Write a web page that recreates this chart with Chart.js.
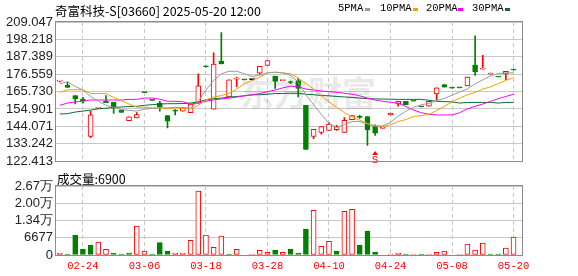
<!DOCTYPE html>
<html>
<head>
<meta charset="utf-8">
<script src="https://cdn.jsdelivr.net/npm/chart.js@4/dist/chart.umd.min.js"></script>
<style>
    body { margin: 0; background: #fff; width: 578px; height: 276px; position: relative; overflow: hidden; }
    canvas { position: absolute; left: 0; }
    #price { top: 0; }
    #vol { top: 172px; }
    .txt { position: absolute; white-space: nowrap; color: #000; }
    #title { left: 55px; top: 1px; font: 12.5px "Noto Sans CJK SC", sans-serif; }
    #volTitle { left: 57px; top: 169px; font: 12.5px "Noto Sans CJK SC", sans-serif; }
    .lg { position: absolute; top: 2px; font: 10.5px "Liberation Mono", monospace; color: #000; }
    .sw { position: absolute; top: 8px; width: 5px; height: 3px; }
</style>
</head>
<body>
<canvas id="price" width="578" height="172"></canvas>
<canvas id="vol" width="578" height="104"></canvas>
<div class="txt" id="title">奇富科技-S[03660] 2025-05-20 12:00</div>
<div class="txt" id="volTitle">成交量:6900</div>
<div id="legend"></div>
<script>
// ---- data ----
const dates = ['02-19', '02-20', '02-21', '02-24', '02-25', '02-26', '02-27', '02-28', '03-03', '03-04',
    '03-05', '03-06', '03-07', '03-10', '03-11', '03-12', '03-13', '03-14', '03-17', '03-18',
    '03-19', '03-20', '03-21', '03-24', '03-25', '03-26', '03-27', '03-28', '03-31', '04-01',
    '04-02', '04-03', '04-07', '04-08', '04-09', '04-10', '04-11', '04-14', '04-15', '04-16',
    '04-17', '04-22', '04-23', '04-24', '04-25', '04-28', '04-29', '04-30', '05-02', '05-06',
    '05-07', '05-08', '05-09', '05-12', '05-13', '05-14', '05-15', '05-16', '05-19', '05-20'];
const axisDates = ['02-24', '03-06', '03-18', '03-28', '04-10', '04-24', '05-08', '05-20'];

const open = [172.2, 169.7, 163.3, 161.0, 137.9, 155.4, 159.7, 159.1, 154.0, 147.6,
    149.4, 165.3, 160.5, 158.6, 150.8, 153.8, 153.6, 152.6, 158.6, 181.4,
    154.8, 184.7, 162.4, 173.4, 173.1, 173.2, 177.2, 182.1, 175.4, 172.6,
    171.6, 172.6, 157.2, 137.9, 140.3, 141.5, 142.0, 140.3, 148.2, 150.4,
    150.2, 144.0, 142.8, 151.2, 158.0, 159.7, 159.8, 156.3, 156.6, 164.3,
    170.1, 168.0, 168.1, 169.3, 182.2, 179.7, 176.7, 174.9, 176.8, 179.3];
const high = [172.4, 171.6, 163.3, 162.1, 153.6, 156.0, 163.3, 159.1, 154.0, 150.0,
    152.6, 165.3, 160.5, 159.7, 150.8, 154.6, 155.6, 158.0, 176.8, 181.6,
    189.9, 202.4, 173.0, 174.8, 173.1, 173.4, 181.4, 185.1, 175.4, 172.7,
    172.2, 173.8, 157.2, 142.3, 144.0, 146.5, 144.8, 149.6, 150.8, 151.0,
    150.2, 145.0, 142.9, 152.4, 159.7, 159.7, 159.8, 156.3, 159.7, 168.1,
    170.1, 168.0, 168.1, 174.8, 200.4, 188.3, 177.2, 174.9, 178.4, 179.8];
const low = [171.8, 168.4, 158.0, 158.6, 137.0, 155.2, 158.8, 152.2, 152.8, 147.6,
    149.4, 165.1, 160.3, 153.6, 143.1, 151.2, 153.6, 152.6, 158.6, 181.0,
    154.8, 183.0, 162.4, 168.7, 173.0, 173.0, 176.4, 182.1, 167.7, 172.6,
    170.6, 162.4, 129.8, 136.4, 139.3, 141.5, 141.5, 140.3, 148.2, 149.0,
    132.2, 138.5, 142.8, 151.2, 156.6, 157.6, 159.7, 156.2, 156.6, 160.6,
    168.5, 167.9, 168.0, 169.3, 175.8, 179.7, 176.6, 174.8, 173.2, 179.0];
const close = [172.4, 168.4, 161.2, 160.0, 151.2, 155.6, 158.8, 155.6, 152.8, 150.0,
    151.4, 165.1, 160.3, 156.4, 147.3, 153.6, 155.6, 158.0, 169.3, 181.2,
    182.8, 183.0, 173.0, 174.2, 173.0, 173.2, 181.4, 185.1, 172.1, 172.7,
    171.4, 167.7, 129.8, 142.3, 144.0, 145.5, 144.0, 147.9, 150.8, 149.6,
    141.9, 139.9, 142.9, 152.4, 159.7, 157.6, 159.7, 156.2, 159.7, 168.1,
    168.5, 167.9, 168.0, 174.8, 178.2, 179.8, 176.8, 174.8, 178.4, 179.2];

const ma5 = [170.7, 171.8, 169.0, 166.7, 162.7, 159.7, 157.2, 156.0, 154.6, 154.0,
    153.6, 154.8, 155.2, 155.6, 155.6, 156.0, 155.8, 155.4, 159.7, 166.7,
    172.7, 176.8, 178.4, 178.4, 176.8, 175.2, 176.0, 177.4, 177.8, 177.4,
    175.8, 171.8, 163.7, 157.6, 151.6, 145.9, 143.5, 145.1, 147.1, 147.1,
    145.5, 144.3, 144.4, 146.5, 150.5, 153.5, 156.0, 157.5, 158.5, 160.0,
    161.5, 163.5, 165.5, 167.5, 170.5, 173.0, 175.5, 177.0, 177.4, 177.4];
const ma10 = [165.3, 166.9, 166.9, 166.9, 164.5, 164.5, 164.5, 162.1, 160.1, 158.0,
    156.0, 156.0, 155.6, 155.6, 155.2, 155.6, 155.4, 155.0, 157.2, 160.6,
    162.3, 163.3, 164.7, 167.3, 170.7, 172.7, 174.8, 177.4, 177.8, 177.4,
    176.8, 174.2, 170.7, 167.3, 163.3, 159.3, 156.0, 152.6, 150.0, 147.9,
    145.9, 144.5, 143.9, 145.1, 147.1, 148.3, 150.2, 150.8, 151.6, 154.0,
    156.6, 159.3, 161.7, 163.7, 165.3, 167.3, 168.7, 170.7, 172.7, 174.4];
const ma20 = [157.2, 158.6, 159.3, 159.7, 160.5, 160.5, 160.5, 160.5, 160.5, 160.9,
    160.9, 161.7, 161.7, 161.0, 159.7, 159.7, 159.4, 158.0, 158.6, 159.7,
    160.6, 161.1, 161.7, 162.3, 163.1, 163.7, 164.5, 165.7, 166.7, 168.1,
    169.1, 168.7, 167.3, 166.7, 166.1, 165.7, 165.3, 164.7, 164.1, 163.1,
    161.7, 160.5, 159.7, 159.1, 158.5, 156.5, 154.2, 152.6, 151.6, 151.2,
    151.2, 151.2, 152.6, 155.0, 156.6, 158.0, 159.7, 161.3, 162.7, 164.1];
const ma30 = [151.8, 152.0, 153.0, 153.6, 154.2, 155.0, 155.4, 155.8, 156.2, 156.4,
    156.6, 157.2, 157.6, 158.0, 158.2, 158.2, 158.3, 158.6, 159.3, 160.6,
    161.3, 161.7, 162.3, 162.7, 163.1, 163.7, 163.8, 164.1, 164.5, 164.6,
    164.7, 164.7, 164.1, 163.8, 163.3, 163.1, 162.7, 162.4, 162.1, 161.7,
    161.3, 161.2, 161.1, 161.0, 160.9, 160.9, 160.9, 160.9, 160.3, 159.7,
    159.5, 159.3, 158.6, 159.0, 159.0, 159.0, 159.0, 158.6, 159.0, 159.0];

const volume = [774, 387, 7740, 2322, 3870, 5031, 2193, 774, 387, 774,
    11223, 1548, 387, 4773, 1548, 774, 774, 5676, 24768, 7740,
    2967, 7353, 387, 2193, 0, 387, 1806, 1032, 1935, 1032,
    2322, 774, 10062, 17286, 3354, 5289, 1548, 16899, 17673, 3870,
    9288, 1161, 0, 387, 774, 387, 387, 387, 387, 1032,
    1548, 0, 387, 4257, 1935, 4644, 387, 387, 2709, 6900];

const priceTicks = [122.413, 133.242, 144.071, 154.901, 165.730, 176.559, 187.389, 198.218, 209.047];
const volTicks = [0, 6677, 13354, 20031, 26708];
const volTickText = ['0', '6677', '1.34万', '2.00万', '2.67万'];

const maNames = ['5PMA', '10PMA', '20PMA', '30PMA'];
const signalDate = '04-22';
const watermark = '东方财富';

// ---- styles ----
const RED = '#ff0000';
const GREEN = '#008000';
const maColors = ['#9a9a9a', '#f5a000', '#ff00ff', '#0b6e2e'];
const GRID = '#c8c8c8';

const tickIdx = axisDates.map(d => dates.indexOf(d));
const bodyLine = close.map((c, i) => c > open[i] ? RED : c < open[i] ? GREEN : '#000');
const bodyFill = close.map((c, i) => c > open[i] ? '#fff' : c < open[i] ? GREEN : '#000');
const volUp = close.map((c, i) => i === 0 || c >= close[i - 1]);

// legend (text followed by colour swatch)
const legendPos = [[338, 365], [380, 413], [426, 458], [472, 505]];
const legend = document.getElementById('legend');
maNames.forEach((name, k) => {
    const t = document.createElement('div');
    t.className = 'lg';
    t.style.left = legendPos[k][0] + 'px';
    t.textContent = name;
    const s = document.createElement('div');
    s.className = 'sw';
    s.style.left = legendPos[k][1] + 'px';
    s.style.background = maColors[k];
    legend.appendChild(t);
    legend.appendChild(s);
});

function xAxis(showLabels) {
    return {
        type: 'linear',
        min: -0.5,
        max: 60.1,
        offset: false,
        afterBuildTicks: s => { s.ticks = tickIdx.map(v => ({ value: v })); },
        afterFit: s => { s.height = showLabels ? 21 : 0; },
        grid: { color: GRID, drawTicks: false, offset: false },
        border: { display: false, dash: [4, 3] },
        ticks: {
            display: showLabels,
            padding: 5,
            color: RED,
            font: { family: 'Liberation Mono', size: 10.5 },
            maxRotation: 0,
            autoSkip: false,
            callback: v => dates[v],
        },
    };
}

// grey frame round the plot area
const frame = {
    id: 'frame',
    afterDraw(c) {
        const { left, top, right, bottom } = c.chartArea;
        const ctx = c.ctx;
        ctx.save();
        ctx.strokeStyle = '#8c8c8c';
        ctx.lineWidth = 1;
        ctx.strokeRect(Math.round(left) - 0.5, Math.round(top) - 0.5, Math.round(right - left) + 1, Math.round(bottom - top) + 1);
        ctx.restore();
    },
};

const marks = {
    id: 'marks',
    beforeDatasetsDraw(c) {
        const ctx = c.ctx;
        ctx.save();
        ctx.font = 'bold 34px "Noto Sans CJK SC"';
        ctx.fillStyle = 'rgba(120,120,120,0.16)';
        ctx.textBaseline = 'middle';
        ctx.fillText(watermark, 240, 93);
        ctx.restore();
    },
    afterDatasetsDraw(c) {
        const x = c.scales.x.getPixelForValue(dates.indexOf(signalDate));
        const ctx = c.ctx;
        ctx.save();
        ctx.fillStyle = RED;
        ctx.beginPath();
        ctx.moveTo(x, 151);
        ctx.lineTo(x - 3, 155);
        ctx.lineTo(x + 3, 155);
        ctx.closePath();
        ctx.fill();
        ctx.font = '11px "Liberation Mono"';
        ctx.textAlign = 'center';
        ctx.textBaseline = 'top';
        ctx.fillText('S', x, 155);
        ctx.restore();
    },
};

const maSets = [ma5, ma10, ma20, ma30].map((arr, k) => ({
    type: 'line',
    label: maNames[k],
    data: arr.map((v, i) => ({ x: i, y: v })),
    borderColor: maColors[k],
    borderWidth: 1,
    pointRadius: 0,
    tension: 0,
    order: 0,
}));

new Chart(document.getElementById('price'), {
    type: 'bar',
    data: {
        datasets: [
            ...maSets,
            {
                label: 'body',
                data: dates.map((d, i) => ({ x: i, y: [open[i], close[i]] })),
                backgroundColor: bodyFill,
                borderColor: bodyLine,
                borderWidth: 1,
                borderSkipped: false,
                barThickness: 5,
                minBarLength: 1,
                grouped: false,
                order: 1,
            },
            {
                label: 'wick',
                data: dates.map((d, i) => ({ x: i, y: [low[i], high[i]] })),
                backgroundColor: bodyLine,
                borderWidth: 0,
                barThickness: 1,
                grouped: false,
                order: 2,
            },
        ],
    },
    options: {
        responsive: false,
        animation: false,
        layout: { padding: { top: 22, right: 56, bottom: 7, left: 0 } },
        plugins: { legend: { display: false }, tooltip: { enabled: false } },
        scales: {
            x: xAxis(false),
            y: {
                min: 122.413,
                max: 209.047,
                afterBuildTicks: s => { s.ticks = priceTicks.map(v => ({ value: v })); },
                afterFit: s => { s.width = 56; },
                grid: { color: GRID, drawTicks: false },
                border: { display: false },
                ticks: {
                    padding: 3,
                    color: '#222',
                    autoSkip: false,
                    font: { family: 'Liberation Sans', size: 13 },
                    callback: v => v.toFixed(3),
                },
            },
        },
    },
    plugins: [frame, marks],
});

new Chart(document.getElementById('vol'), {
    type: 'bar',
    data: {
        datasets: [{
            label: 'volume',
            data: volume.map((v, i) => ({ x: i, y: v || null })),
            backgroundColor: volUp.map(u => u ? '#fff' : GREEN),
            borderColor: volUp.map(u => u ? RED : GREEN),
            borderWidth: 1,
            borderSkipped: false,
            barThickness: 5,
            grouped: false,
        }],
    },
    options: {
        responsive: false,
        animation: false,
        layout: { padding: { top: 14, right: 56, bottom: 0, left: 0 } },
        plugins: { legend: { display: false }, tooltip: { enabled: false } },
        scales: {
            x: xAxis(true),
            y: {
                min: 0,
                max: 26708,
                afterBuildTicks: s => { s.ticks = volTicks.map(v => ({ value: v })); },
                afterFit: s => { s.width = 56; },
                grid: { color: GRID, drawTicks: false },
                border: { display: false },
                ticks: {
                    padding: 3,
                    color: '#222',
                    autoSkip: false,
                    font: { family: 'Liberation Sans', size: 13 },
                    callback: (v, i) => volTickText[i],
                },
            },
        },
    },
    plugins: [frame],
});
</script>
</body>
</html>
